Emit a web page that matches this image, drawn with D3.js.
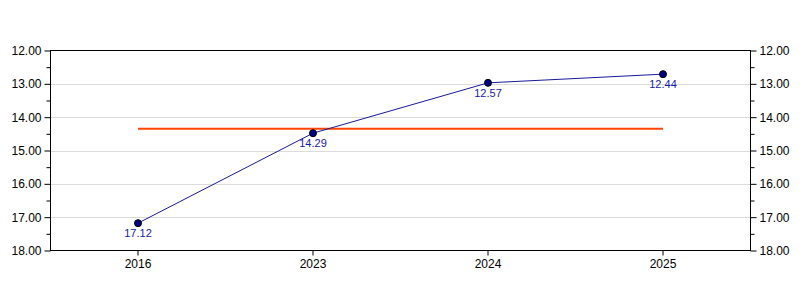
<!DOCTYPE html>
<html>
<head>
<meta charset="utf-8">
<script src="https://cdn.jsdelivr.net/npm/d3@7"></script>
<style>
  body { margin: 0; background: #fff; }
  text { font-family: "Liberation Sans", Arial, sans-serif; }
</style>
</head>
<body>
<script>
// values
const years = ["2016", "2023", "2024", "2025"];
const values = [17.18, 14.48, 12.97, 12.71];
const labels = ["17.12", "14.29", "12.57", "12.44"];
const averageValue = 14.35;
const yTicks = [12, 13, 14, 15, 16, 17, 18];
const yMinorTicks = [12.5, 13.5, 14.5, 15.5, 16.5, 17.5];

const width = 800, height = 300;
const margin = { top: 50.5, right: 49.5, bottom: 49.5, left: 50.5 };

const svg = d3.select("body")
    .append("svg")
    .attr("width", width)
    .attr("height", height);

const x = d3.scaleBand()
    .domain(years)
    .range([margin.left, width - margin.right])
    .padding(0);

const y = d3.scaleLinear()
    .domain([12, 18])
    .range([margin.top, height - margin.bottom]);

const cx = d => x(d) + x.bandwidth() / 2;

// gridlines
svg.append("g")
    .selectAll("line")
    .data(yTicks.filter(t => t > 12 && t < 18))
    .join("line")
    .attr("x1", margin.left)
    .attr("x2", width - margin.right)
    .attr("y1", d => Math.round(y(d)) + 0.5)
    .attr("y2", d => Math.round(y(d)) + 0.5)
    .attr("stroke", "#dcdcdc")
    .attr("stroke-width", 1);

// left axis
svg.append("g")
    .attr("transform", `translate(${margin.left},0)`)
    .call(d3.axisLeft(y).tickValues(yTicks).tickFormat(d3.format(".2f")).tickSize(6).tickSizeOuter(0).tickPadding(3));
svg.append("g")
    .attr("transform", `translate(${margin.left},0)`)
    .call(d3.axisLeft(y).tickValues(yMinorTicks).tickFormat("").tickSize(4).tickSizeOuter(0));

// right axis
svg.append("g")
    .attr("transform", `translate(${width - margin.right},0)`)
    .call(d3.axisRight(y).tickValues(yTicks).tickFormat(d3.format(".2f")).tickSize(6).tickSizeOuter(0).tickPadding(3));
svg.append("g")
    .attr("transform", `translate(${width - margin.right},0)`)
    .call(d3.axisRight(y).tickValues(yMinorTicks).tickFormat("").tickSize(4).tickSizeOuter(0));

// bottom axis
svg.append("g")
    .attr("transform", `translate(0,${height - margin.bottom})`)
    .call(d3.axisBottom(x).tickSize(5).tickSizeOuter(0).tickPadding(4));

svg.selectAll(".tick text")
    .attr("font-size", 12)
    .attr("fill", "#000");
svg.selectAll(".domain").remove();

// frame
svg.append("rect")
    .attr("x", margin.left)
    .attr("y", margin.top)
    .attr("width", width - margin.left - margin.right)
    .attr("height", height - margin.top - margin.bottom)
    .attr("fill", "none")
    .attr("stroke", "#000")
    .attr("stroke-width", 1);

// average line
svg.append("line")
    .attr("x1", cx(years[0]))
    .attr("x2", cx(years[years.length - 1]))
    .attr("y1", y(averageValue))
    .attr("y2", y(averageValue))
    .attr("stroke", "#ff4500")
    .attr("stroke-width", 2);

// series line
const line = d3.line()
    .x((d, i) => cx(years[i]))
    .y(d => y(d));

svg.append("path")
    .datum(values)
    .attr("d", line)
    .attr("fill", "none")
    .attr("stroke", "#1a1a9a")
    .attr("stroke-width", 1);

svg.append("g")
    .selectAll("circle")
    .data(values)
    .join("circle")
    .attr("cx", (d, i) => cx(years[i]))
    .attr("cy", d => y(d))
    .attr("r", 3.5)
    .attr("fill", "#000080")
    .attr("stroke", "#000")
    .attr("stroke-width", 1);

svg.append("g")
    .selectAll("text")
    .data(values)
    .join("text")
    .attr("x", (d, i) => cx(years[i]))
    .attr("y", d => y(d) + 14)
    .attr("text-anchor", "middle")
    .attr("font-size", 11)
    .attr("fill", "#1a1aa6")
    .text((d, i) => labels[i]);
</script>
</body>
</html>
